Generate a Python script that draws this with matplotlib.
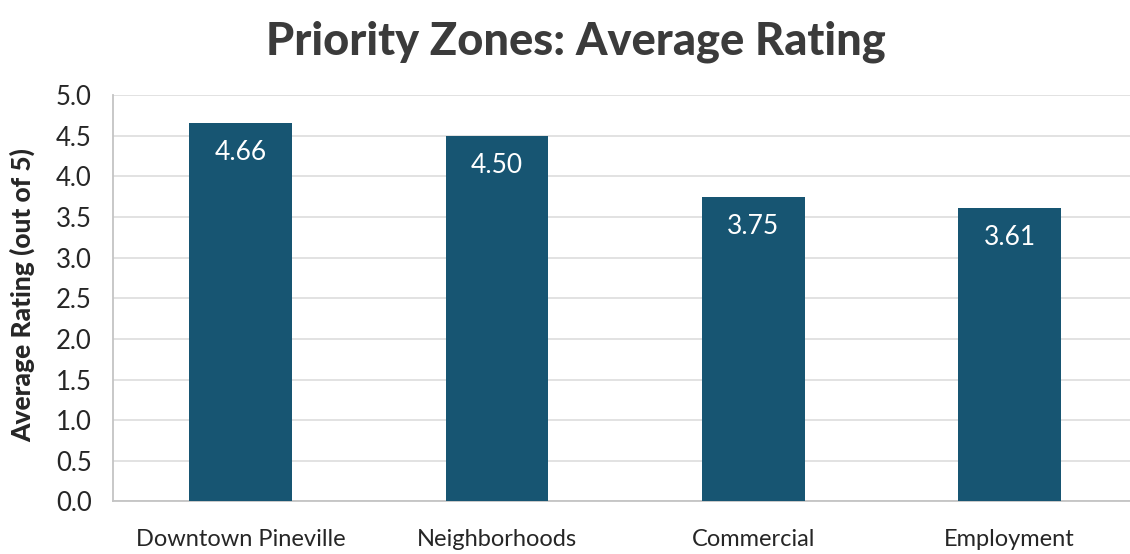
import matplotlib
matplotlib.use("Agg")
import matplotlib.pyplot as plt

# Zone categories and their average ratings
zones = ["Downtown Pineville", "Neighborhoods", "Commercial", "Employment"]
ratings = [4.66, 4.50, 3.75, 3.61]
y_ticks = [0.0, 0.5, 1.0, 1.5, 2.0, 2.5, 3.0, 3.5, 4.0, 4.5, 5.0]

bar_color = "#175572"
grid_color = "#dadada"
spine_color = "#c4c4c4"
text_color = "#262626"

plt.rcParams["font.family"] = ["Lato", "DejaVu Sans"]

fig = plt.figure(figsize=(11.30, 5.54), dpi=100)
ax = fig.add_axes([0.0996, 0.0948, 0.9004, 0.7337])

x = list(range(len(zones)))
bars = ax.bar(x, ratings, width=0.40, color=bar_color, zorder=3)

for xi, val in zip(x, ratings):
    ax.annotate(f"{val:.2f}", xy=(xi, val), xytext=(0, -21.5),
                textcoords="offset points", ha="center", va="center",
                color="white", fontsize=19, zorder=4)

ax.set_xlim(-0.5, 3.47)
ax.set_ylim(0, 5)
ax.set_yticks(y_ticks)
ax.set_yticklabels([f"{t:.1f}" for t in y_ticks], fontsize=18.5, color=text_color)
ax.set_xticks(x)
ax.set_xticklabels(zones, fontsize=17, color=text_color)
ax.tick_params(axis="both", length=0)
ax.tick_params(axis="y", pad=15)
ax.tick_params(axis="x", pad=20)

ax.yaxis.grid(True, color=grid_color, linewidth=1.1, zorder=0)
ax.set_axisbelow(True)
for side in ("top", "right"):
    ax.spines[side].set_visible(False)
for side in ("left", "bottom"):
    ax.spines[side].set_color(spine_color)
    ax.spines[side].set_linewidth(1.3)

fig.text(0.02, 0.468, "Average Rating (out of 5)", rotation=90, ha="center",
         va="center", fontsize=19, fontweight="black", color=text_color)

fig.text(0.51, 0.925, "Priority Zones: Average Rating", ha="center", va="center",
         fontsize=32.5, fontweight="black", color="#3b3b3b")

fig.savefig("out.png", dpi=100, facecolor="white")
